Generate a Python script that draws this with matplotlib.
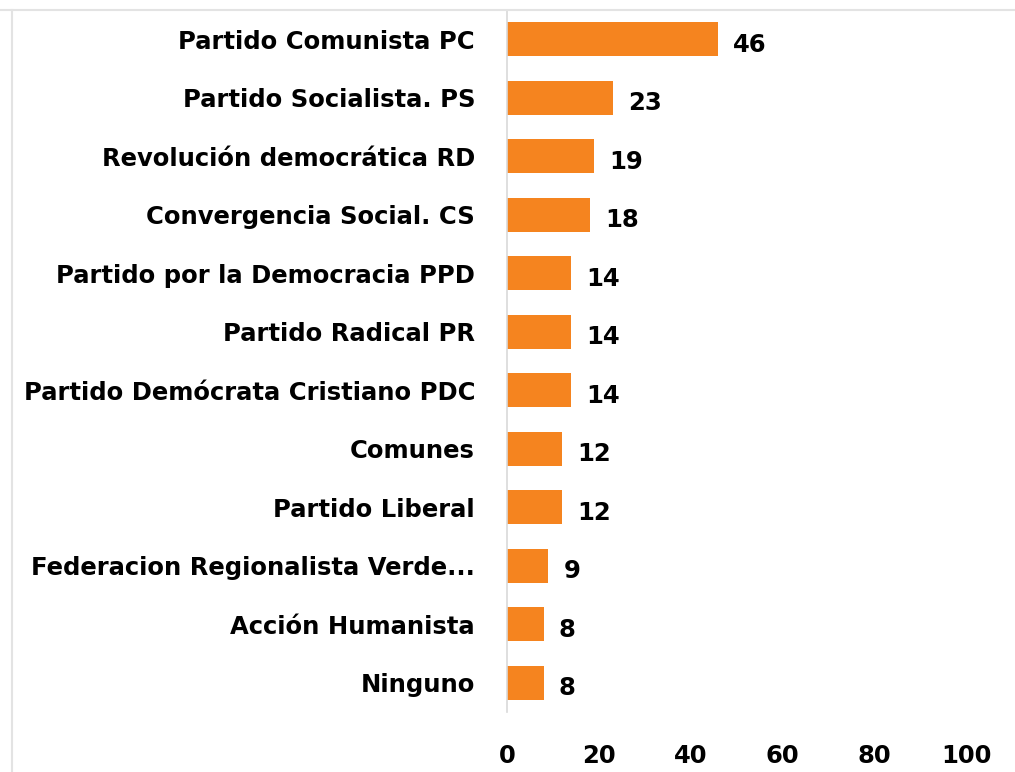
import matplotlib.pyplot as plt
from matplotlib.lines import Line2D

partidos = [
    "Partido Comunista PC",
    "Partido Socialista. PS",
    "Revolución democrática RD",
    "Convergencia Social. CS",
    "Partido por la Democracia PPD",
    "Partido Radical PR",
    "Partido Demócrata Cristiano PDC",
    "Comunes",
    "Partido Liberal",
    "Federacion Regionalista Verde...",
    "Acción Humanista",
    "Ninguno",
]
valores = [46, 23, 19, 18, 14, 14, 14, 12, 12, 9, 8, 8]
ticks_x = [0, 20, 40, 60, 80, 100]

plt.rcParams["font.family"] = ["DejaVu Sans"]
plt.rcParams["font.weight"] = "bold"
fs = 17.5

fig = plt.figure(figsize=(10.15, 7.72), dpi=100)
ax = fig.add_axes([507 / 1015, 1 - 712 / 772, 459 / 1015, 702 / 772])

pos = list(range(len(partidos)))
ax.barh(pos, valores, height=0.58, color="#F5841F")

for y, v in zip(pos, valores):
    ax.annotate(str(v), (v, y), xytext=(11, -4), textcoords="offset points",
                ha="left", va="center", fontsize=fs, fontweight="bold")

ax.set_xlim(0, 100)
ax.set_ylim(len(partidos) - 0.5, -0.5)
ax.set_yticks(pos)
ax.set_yticklabels(partidos, fontsize=fs, fontweight="bold")
ax.set_xticks(ticks_x)
ax.set_xticklabels([str(t) for t in ticks_x], fontsize=fs, fontweight="bold")
ax.tick_params(axis="y", length=0, pad=23)
ax.tick_params(axis="x", length=0, pad=23)

for s in ["top", "right", "bottom"]:
    ax.spines[s].set_visible(False)
ax.spines["left"].set_color("#d9d9d9")
ax.spines["left"].set_linewidth(1.2)

# borde gris del recuadro original
fig.add_artist(Line2D([0, 1], [1 - 10 / 772] * 2, color="#e3e3e3", lw=1.5,
                      transform=fig.transFigure))
fig.add_artist(Line2D([12 / 1015] * 2, [0, 1 - 10 / 772], color="#e3e3e3", lw=1.5,
                      transform=fig.transFigure))

fig.savefig("out.png", dpi=100)
